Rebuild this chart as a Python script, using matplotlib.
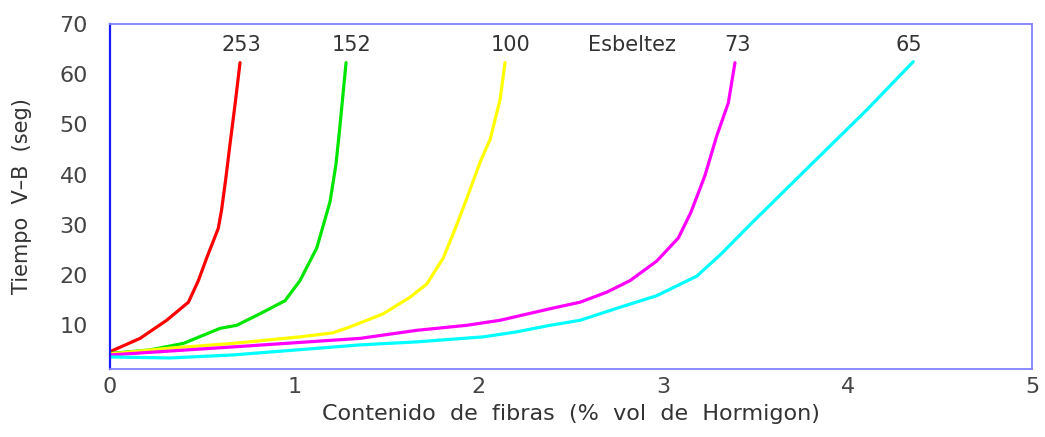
import matplotlib
matplotlib.use("Agg")
import matplotlib.pyplot as plt

# Contenido de fibras (% vol) vs tiempo V-B (seg), one curve per esbeltez
x_253 = [0, 0.163, 0.307, 0.425, 0.479, 0.524, 0.587, 0.605, 0.627, 0.652, 0.678, 0.705]
y_253 = [4.75, 7.4, 11.0, 14.6, 18.9, 23.4, 29.3, 33.0, 39.0, 46.5, 54.0, 62.3]

x_152 = [0, 0.217, 0.398, 0.597, 0.687, 0.813, 0.949, 1.030, 1.121, 1.193, 1.225, 1.245, 1.262, 1.280]
y_152 = [4.4, 5.1, 6.4, 9.4, 10.0, 12.3, 14.9, 18.9, 25.4, 34.6, 42.0, 49.0, 55.5, 62.3]

x_100 = [0, 0.307, 0.667, 1.030, 1.209, 1.302, 1.482, 1.627, 1.717, 1.807, 1.880, 1.934, 2.007, 2.061, 2.115, 2.142]
y_100 = [4.3, 5.4, 6.4, 7.7, 8.5, 9.7, 12.3, 15.6, 18.2, 23.4, 30.0, 35.2, 42.5, 47.0, 54.9, 62.3]

x_73 = [0, 0.667, 1.356, 1.663, 1.934, 2.115, 2.386, 2.549, 2.694, 2.820, 2.965, 3.082, 3.150, 3.226, 3.290, 3.353, 3.389]
y_73 = [4.1, 5.7, 7.4, 9.0, 10.0, 11.0, 13.3, 14.6, 16.6, 18.9, 22.8, 27.4, 32.5, 39.8, 47.7, 54.3, 62.3]

x_65 = [0, 0.325, 0.667, 1.356, 1.663, 2.024, 2.206, 2.386, 2.549, 2.766, 2.965, 3.182, 3.308, 3.489, 3.832, 4.104, 4.356]
y_65 = [3.7, 3.5, 4.1, 6.1, 6.7, 7.7, 8.7, 10.0, 11.0, 13.6, 15.9, 19.8, 24.0, 30.7, 43.1, 52.9, 62.5]

labels = ["253", "152", "100", "73", "65"]
label_x = [0.71, 1.31, 2.17, 3.40, 4.33]

series = [(x_253, y_253, "#ff0000"),
          (x_152, y_152, "#00e600"),
          (x_100, y_100, "#ffff00"),
          (x_73, y_73, "#ff00ff"),
          (x_65, y_65, "#00ffff")]

fig = plt.figure(figsize=(10.45, 4.37), dpi=100)
ax = fig.add_axes([0.1053, 0.1556, 0.8823, 0.7895])

for xs, ys, c in series:
    ax.plot(xs, ys, color=c, lw=2.3, solid_capstyle="round", solid_joinstyle="round")

txt = "#333333"
for lab, lx in zip(labels, label_x):
    ax.text(lx, 65.8, lab, ha="center", va="center", fontsize=15, color=txt)
ax.text(2.83, 65.8, "Esbeltez", ha="center", va="center", fontsize=15, color=txt)

ax.set_xlim(0, 5)
ax.set_ylim(1.3, 70)
ax.set_xticks([0, 1, 2, 3, 4, 5])
ax.set_yticks([10, 20, 30, 40, 50, 60, 70])
ax.tick_params(length=0, labelsize=16, labelcolor="#444444")
ax.tick_params(axis="x", pad=6)
ax.tick_params(axis="y", pad=16)

ax.set_xlabel("Contenido  de  fibras  (%  vol  de  Hormigon)", fontsize=16, color=txt, labelpad=5)
ax.set_ylabel("Tiempo  V–B  (seg)", fontsize=15, color=txt, labelpad=20)

ax.spines["left"].set_color("#1a1aff")
ax.spines["left"].set_linewidth(1.6)
for s in ["top", "right", "bottom"]:
    ax.spines[s].set_color("#8080ff")
    ax.spines[s].set_linewidth(1.3)

fig.savefig("out.png", dpi=100)
